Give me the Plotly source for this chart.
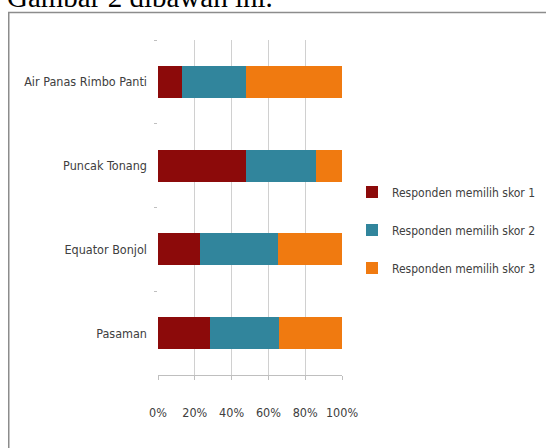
import plotly.graph_objects as go

categories = ["Air Panas Rimbo Panti", "Puncak Tonang", "Equator Bonjol", "Pasaman"]
skor1 = [13, 48, 23, 28]
skor2 = [35, 38, 42, 38]
skor3 = [52, 14, 35, 34]
series_names = ["Responden memilih skor 1", "Responden memilih skor 2", "Responden memilih skor 3"]
colors = ["#8C0A0A", "#31859C", "#F07A10"]
x_ticks = [0, 20, 40, 60, 80, 100]
x_tick_labels = ["0%", "20%", "40%", "60%", "80%", "100%"]

FONT = "DejaVu Sans Condensed, Liberation Sans Narrow, Arial Narrow, sans-serif"

fig = go.Figure()
for i, (name, vals) in enumerate(zip(series_names, [skor1, skor2, skor3])):
    fig.add_trace(go.Bar(
        y=categories, x=vals, name=name, orientation="h",
        marker=dict(color=colors[i], line=dict(width=0)),
        legendgroup=f"g{i}",
    ))

L, R, T, B = 158, 204, 40, 73
W, H = 546, 448
pw, ph = W - L - R, H - T - B

def px(x):
    return (x - L) / pw

def py(y):
    return (H - B - y) / ph

fig.update_layout(
    width=W, height=H,
    margin=dict(l=L, r=R, t=T, b=B, pad=0, autoexpand=False),
    barmode="stack", bargap=0.62,
    paper_bgcolor="white", plot_bgcolor="white",
    font=dict(family=FONT, size=12.5, color="#404040"),
    showlegend=True,
    legend=dict(
        xref="container", yref="container",
        x=352 / W, y=1 - 230 / H, xanchor="left", yanchor="middle",
        traceorder="grouped", tracegroupgap=19,
        font=dict(family=FONT, size=12, color="#404040"),
        itemwidth=30, bgcolor="rgba(0,0,0,0)",
    ),
    xaxis=dict(
        range=[0, 100], tickvals=x_ticks, ticktext=x_tick_labels, tickangle=0,
        showgrid=True, gridcolor="#D0D0D0", gridwidth=1,
        showline=True, linecolor="#BFBFBF", linewidth=1,
        ticks="outside", ticklen=4, tickcolor="#BFBFBF",
        ticklabelstandoff=22, zeroline=False, fixedrange=True, automargin=False,
        tickfont=dict(size=12.5),
    ),
    yaxis=dict(
        categoryorder="array", categoryarray=categories, autorange="reversed",
        showline=False, ticks="outside", ticklen=3, tickcolor="#BFBFBF",
        tickson="boundaries", ticklabelstandoff=10, showgrid=False,
        fixedrange=True, automargin=False,
    ),
)

# outer chart frame
fig.add_shape(type="rect", xref="paper", yref="paper",
              x0=px(8.75), x1=px(560), y0=py(470), y1=py(12.5),
              line=dict(color="#8C8C8C", width=1.5), fillcolor="rgba(0,0,0,0)",
              layer="below")

# text from the page above the chart (mostly cut off at the top)
fig.add_annotation(text="Gambar 2 dibawah ini.", xref="paper", yref="paper",
                   x=px(5), y=py(15), xanchor="left", yanchor="bottom",
                   showarrow=False,
                   font=dict(family="Liberation Serif, Times New Roman, serif", size=29, color="black"))

fig.write_html("out.html",
               config={"displayModeBar": False},
               post_script="document.body.style.margin='0';document.body.style.overflow='hidden';")
